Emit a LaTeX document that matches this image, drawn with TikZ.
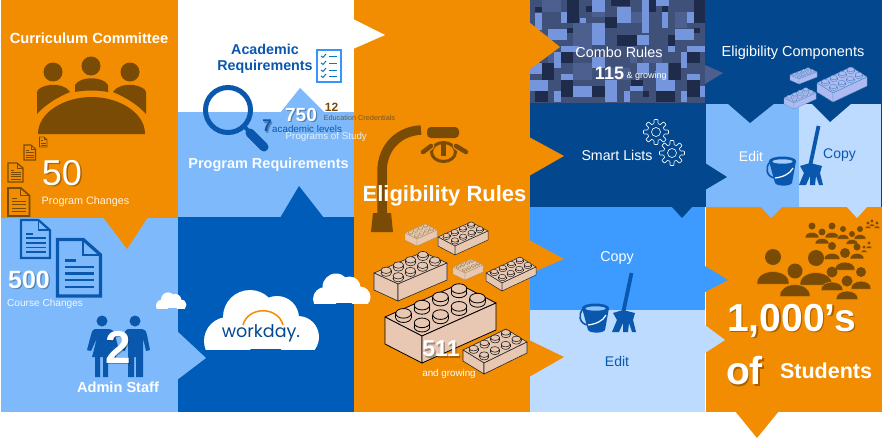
\documentclass[tikz,border=0pt]{standalone}
\usepackage{fontspec}
\setmainfont{Liberation Sans}
\newfontfamily\wdayfont{Poppins}
\definecolor{org}{HTML}{F28C00}
\definecolor{lblue}{HTML}{7EB9FB}
\definecolor{dblue}{HTML}{005CB9}
\definecolor{navy}{HTML}{03488F}
\definecolor{mblue}{HTML}{3D9BFF}
\definecolor{pale}{HTML}{BCDBFF}
\definecolor{brn}{HTML}{7A4B05}
\definecolor{icob}{HTML}{0A57AE}
\definecolor{brickf}{HTML}{E8C8B2}
\definecolor{brickb}{HTML}{AEBBF2}
\definecolor{legobase}{HTML}{3F5178}
\definecolor{legolight}{HTML}{7596DC}
\definecolor{legodark}{HTML}{1F2B4A}
\definecolor{legomid}{HTML}{4C5F8E}
\tikzset{
  fs/.style={font=\fontsize{#1}{#1}\selectfont,inner sep=0pt},
  fsb/.style={font=\fontsize{#1}{#1}\selectfont\bfseries,inner sep=0pt},
  wht/.style={text=white},
}
\newcommand\Sh[6]{% name x y opts text (shadowed)
  \node[#4,text=black,opacity=.3] at ({#2+1.3},{#3+1.3}) {#5};
  \node[#4,text=#6] (#1) at (#2,#3) {#5};
}
\newcommand\doc[7]{% x1 y1 x2 y2 colour lw nlines
  \pgfmathsetmacro\dw{#3-#1}\pgfmathsetmacro\dh{#4-#2}
  \draw[#5,line width=#6,line join=miter] (#1,#2) -- ({#3-.4*\dw},#2) -- (#3,{#2+.27*\dh}) -- (#3,#4) -- (#1,#4) -- cycle;
  \draw[#5,line width={.7*#6}] ({#3-.4*\dw},#2) -- ({#3-.4*\dw},{#2+.27*\dh}) -- (#3,{#2+.27*\dh});
  \foreach \k in {1,...,#7}{
    \draw[#5,line width={.7*#6}] ({#1+.17*\dw},{#2+(.36+.48*\k/#7)*\dh}) -- ({#3-.15*\dw},{#2+(.36+.48*\k/#7)*\dh});
  }
  \draw[#5,line width={.7*#6}] ({#1+.17*\dw},{#2+.37*\dh}) -- ({#1+.42*\dw},{#2+.37*\dh});
}
\newcommand\person[3]{% x y s
  \fill[brn] (#1,#2) circle ({#3});
  \path[fill=brn,draw=org,line width=.5] ({#1-2*#3},{#2+3.4*#3}) .. controls ({#1-2.2*#3},{#2+1.3*#3}) and ({#1+2.2*#3},{#2+1.3*#3}) .. ({#1+2*#3},{#2+3.4*#3}) -- cycle;
}
\newcommand\cloudicon[3]{% x-left y-bottom scale (based on 115x59 cloud)
  \begin{scope}[shift={(#1,#2)},x=#3pt,y=-#3pt]
    \clip (-5,-70) rectangle (125,0);
    \fill[white] (24,-8) circle (24) (46,-32) circle (27) (73,-31) circle (22) (94,-12) circle (21);
    \fill[white] (24,-30) rectangle (94,0);
  \end{scope}
}
\newcommand\brick[9]{% Lx Ly ax ay bx by h fill strokeopts
  \pgfmathsetmacro\rx{.105*#5}\pgfmathsetmacro\ry{.62*\rx}\pgfmathsetmacro\tt{.55*\rx}
  \path[fill=#8,#9,line join=round] (#1,#2) -- ({#1+#3},{#2+#4}) -- ({#1+#3+#5},{#2+#4+#6}) -- ({#1+#5},{#2+#6}) -- cycle;
  \path[fill=#8,#9,line join=round] (#1,#2) -- ({#1+#3},{#2+#4}) -- ({#1+#3},{#2+#4+#7}) -- (#1,{#2+#7}) -- cycle;
  \path[fill=#8,#9,line join=round] ({#1+#3},{#2+#4}) -- ({#1+#3+#5},{#2+#4+#6}) -- ({#1+#3+#5},{#2+#4+#6+#7}) -- ({#1+#3},{#2+#4+#7}) -- cycle;
  \foreach \jj in {0,1}{\foreach \ii in {3,2,1,0}{
    \pgfmathsetmacro\px{#1+(\jj+.5)/2*#3+(\ii+.5)/4*#5}
    \pgfmathsetmacro\py{#2+(\jj+.5)/2*#4+(\ii+.5)/4*#6}
    \path[fill=#8,#9] (\px,\py) ellipse ({\rx} and {\ry});
    \fill[#8] ({\px-\rx},{\py-\tt}) rectangle ({\px+\rx},\py);
    \path[#9] ({\px-\rx},{\py-\tt}) -- ({\px-\rx},\py) ({\px+\rx},{\py-\tt}) -- ({\px+\rx},\py);
    \path[fill=#8,#9] (\px,{\py-\tt}) ellipse ({\rx} and {\ry});
  }}
}
\newcommand\gear[2]{%
  \draw[white,line width=.6,shift={(#1,#2)}] plot[domain=0:360,samples=145,smooth] (\x:{10.5+2*max(min(3*cos(8*\x),1),-1)}) -- cycle;
  \draw[white,line width=.6] (#1,#2) circle (4.5);
}
\newcommand\bucketbroom[3]{% dx dy handle colour
  \begin{scope}[shift={(#1,#2)}]
    \fill[icob] (582,308) -- (588,330) .. controls (590,333.5) and (603,333.5) .. (605,330) -- (609,308) -- cycle;
    \fill[icob] (595.5,308) ellipse (13.5 and 4.5);
    \fill[#3] (595.5,308.5) ellipse (10 and 2.2);
    \draw[icob,line width=1.6] (583,309) .. controls (578,314) and (579,324) .. (588,325);
    \draw[white,line width=1.2] (588,325) .. controls (596,324) and (603,321) .. (606,315);
    \draw[icob,line width=3.8] (631.5,273) -- (623.5,311);
    \fill[icob] (612,332) -- (617,320) -- (613,313) -- (623,310) -- (635,313) -- (633,320) -- (636,332) -- (632,332) -- (629,323) -- (628,332) -- (623,332) -- (623,323) -- (619,332) -- cycle;
  \end{scope}
}
\begin{document}
\begin{tikzpicture}[x=1pt,y=-1pt]
\useasboundingbox (0,0) rectangle (882,439);
\fill[white] (0,0) rectangle (882,439);
% ---- column 1
\fill[org] (1,0) rectangle (178,218);
\fill[lblue] (1,218) rectangle (178,412);
\fill[org] (103,217) -- (127,249) -- (148,217) -- cycle;
% ---- column 2
\fill[lblue] (178,112) rectangle (354,218);
\fill[dblue] (178,217) rectangle (354,412);
\fill[lblue] (280,113) -- (300,88) -- (325,113) -- cycle;
\fill[dblue] (280,218) -- (299,186) -- (324,218) -- cycle;
\fill[lblue] (177,331) -- (206,358) -- (177,380) -- cycle;
% ---- column 4 backgrounds
\begin{scope}
  \clip (530,0) rectangle (705,103);
  \fill[legobase] (529,0) rectangle (705,103);
  \begin{scope}[shift={(529,0)},x=.3333pt,y=-.3333pt]
    \foreach \a/\b/\c/\d in {133/70/190/138,38/0/95/35,303/35/340/70,57/155/75/190,228/205/303/240,133/190/190/240,342/155/400/190,437/35/475/85,190/35/228/52,150/138/190/170,0/105/57/138,303/105/323/190}{\fill[legomid] (\a,\b) rectangle (\c,\d);}
    \foreach \a/\b/\c/\d in {113/0/150/68,18/20/38/35,172/18/190/35,228/52/265/85,247/0/303/18,360/0/380/35,400/18/418/35,495/0/527/68,115/85/133/100,265/105/323/138,418/105/437/138,495/85/512/100,95/155/133/190,475/155/512/190,38/190/75/240,420/190/455/240,95/240/133/290,190/257/228/290,475/240/512/290,18/272/57/305,342/272/360/290,380/272/437/305,305/240/342/257}{\fill[legodark] (\a,\b) rectangle (\c,\d);}
    \foreach \a/\b/\c/\d in {190/0/228/35,265/20/305/70,340/0/360/100,380/0/420/18,400/35/418/85,475/35/495/68,18/38/38/90,95/35/113/68,153/53/170/68,190/70/228/135,57/88/115/120,437/88/495/120,323/105/360/135,95/138/150/155,475/138/527/155,418/138/437/155,75/155/95/205,190/170/228/205,455/155/475/205,323/190/360/222,380/190/418/240,0/190/38/222,95/222/133/240,475/222/512/240,0/240/57/272,228/240/265/305,133/257/190/290,303/257/342/272,380/240/437/272,512/257/527/290,75/272/95/305,285/272/303/305,455/272/475/305}{\fill[legolight] (\a,\b) rectangle (\c,\d);}
  \end{scope}
\end{scope}
\fill[navy] (530,103) rectangle (705,207);
\fill[mblue] (530,207) rectangle (705,310);
\fill[pale] (530,310) rectangle (705,412);
\fill[navy] (671,206) -- (682,218) -- (693,206) -- cycle;
% ---- column 5
\fill[navy] (705,0) rectangle (882,207);
\fill[lblue] (706,104) rectangle (799,207);
\fill[pale] (799,104) rectangle (881,207);
\fill[navy] (727,103) -- (750,123) -- (775,103) -- cycle;
\fill[navy] (811,103) -- (830,122) -- (852,103) -- cycle;
\fill[navy] (705,163) -- (727,177) -- (705,190) -- cycle;
\fill[legomid] (705,65) -- (723,73) -- (705,84) -- cycle;
% orange right block
\fill[org] (706,207) rectangle (882,412);
\fill[lblue] (760,206) -- (771,218) -- (783,206) -- cycle;
\fill[pale] (846,206) -- (857,218) -- (868,206) -- cycle;
\fill[org] (735,411) -- (757,438) -- (779,411) -- cycle;
\fill[mblue] (705,266) -- (728,280) -- (705,292) -- cycle;
\fill[pale] (705,325) -- (725,340) -- (705,353) -- cycle;
% ---- column 3 orange
\fill[org] (354,0) rectangle (530,412);
\fill[white] (353,19) -- (385,35) -- (353,49) -- cycle;
\fill[org] (529,22) -- (560,47) -- (529,70) -- cycle;
\fill[org] (529,137) -- (564,156) -- (529,176) -- cycle;
\fill[org] (529,240) -- (564,259) -- (529,274) -- cycle;
\fill[org] (529,340) -- (564,357) -- (529,377) -- cycle;
% ---- committee icon
\fill[brn] (53,72) circle (9.5) (91,66) circle (9.5) (130,72) circle (9.5);
\fill[brn] (37,114) -- (37,92) .. controls (38,85) and (62,80) .. (70,92) .. controls (58,97) and (46,104) .. (37,114) -- cycle;
\fill[brn] (146,114) -- (146,92) .. controls (145,85) and (121,80) .. (113,92) .. controls (125,97) and (137,104) .. (146,114) -- cycle;
\fill[brn] (75,92) -- (75,85) .. controls (80,76) and (103,76) .. (108,85) -- (108,92) .. controls (98,90) and (85,90) .. (75,92) -- cycle;
\fill[brn] (38,134) .. controls (38,112) and (65,97) .. (91.5,97) .. controls (118,97) and (145,112) .. (145,134) -- cycle;
% ---- docs brown
\doc{39.5}{137}{47}{147}{brn}{.8}{2}
\doc{24}{145}{35.5}{160}{brn}{1.1}{3}
\doc{8}{163}{23}{182}{brn}{1.3}{4}
\doc{8}{188}{29.5}{216}{brn}{1.6}{4}
% ---- docs blue
\doc{21}{220}{50}{258}{icob}{2.2}{4}
\doc{57.5}{239.5}{100.5}{296}{icob}{3.2}{4}
% ---- academic icons
\draw[lblue!60!cyan!70!blue,line width=2] (317,50) rectangle (341,81.5);
\foreach \yy in {56,63,70,76}{
  \draw[icob!80!cyan,line width=1] (321,\yy) -- (323,{\yy+1.5}) -- (326,{\yy-2});
  \draw[icob!80!cyan,line width=1] (329,\yy) -- (337,\yy);
}
\draw[icob,line width=5] (228,110) circle (22.5);
\draw[icob,line width=4] (245,127) -- (250,133);
\draw[icob,line width=9,line cap=round] (250,133) -- (264,147);
% ---- admin people
\fill[icob] (102,321) circle (5.5) (135,321) circle (5.5);
\fill[icob] (95,329) -- (108,329) .. controls (112,329) and (114,331) .. (115,335) -- (119,350) -- (115,351) -- (111,338) -- (116,357) -- (108,357) -- (108,377) -- (103,377) -- (103,357) -- (100,357) -- (100,377) -- (95,377) -- (95,357) -- (92,357) -- (97,338) -- (91,351) -- (87,350) -- (91,335) .. controls (92,331) and (93,329) .. (95,329) -- cycle;
\fill[icob] (128,329) -- (142,329) .. controls (145,329) and (146,331) .. (147,335) -- (150,350) -- (146,351) -- (143,338) -- (143,377) -- (136,377) -- (136,357) -- (134,357) -- (134,377) -- (128,377) -- (128,338) -- (125,351) -- (121,350) -- (124,335) .. controls (125,331) and (126,329) .. (128,329) -- cycle;
% ---- clouds
\cloudicon{156}{308}{.265}
\cloudicon{204}{349}{1}
\cloudicon{313}{303}{.5}
\draw[org,line width=1.5] (243,325) .. controls (248,306) and (278,306) .. (283,325);
\node[font=\wdayfont\fontsize{17.5}{18}\selectfont,text=navy,inner sep=0pt] (wd) at (261,333) {workday.};
% ---- lamp
\draw[brn,line width=9.5] (382,225) -- (382,172) .. controls (382,146) and (400,131) .. (421,130);
\fill[brn] (373,213) -- (391,213) -- (393,232) -- (371,232) -- cycle;
\fill[brn,rounded corners=4] (427,127) rectangle (459,138);
\draw[brn,line width=3] (443.5,152) ellipse (12 and 9.5);
\draw[org,line width=7,line cap=round] (423,152) -- (431,146) (466,152) -- (456,146);
\draw[brn,line width=4.5,line cap=round] (423,152) -- (431,146) (466,152) -- (456,146);
\draw[brn,line width=4.5] (443.5,142) -- (443.5,156);
% ---- bricks
\brick{405}{233}{12}{6}{20}{-9}{7}{brickf}{draw=brn!60,line width=.4}
\brick{438}{237}{17}{9}{33}{-15}{9}{brickf}{draw=black!85,line width=.5}
\brick{374}{273}{24}{11}{49}{-21}{17}{brickf}{draw=black!85,line width=.6}
\brick{453}{267}{12}{6}{18}{-8}{7}{brickf}{draw=brn!60,line width=.4}
\brick{486}{273}{16}{10}{34}{-16}{8}{brickf}{draw=black!85,line width=.5}
\brick{385}{317}{37}{19}{74}{-33}{27}{brickf}{draw=black,line width=.8}
\brick{463}{350}{21}{13}{43}{-21}{11}{brickf}{draw=black!85,line width=.6}
\brick{790}{75}{9}{4}{18}{-7}{5}{brickb}{draw=icob!60,line width=.35}
\brick{817}{83}{16}{10}{34}{-16}{9}{brickb}{draw=icob!70,line width=.4}
\brick{784}{98}{10}{5}{22}{-10}{6}{brickb}{draw=icob!60,line width=.35}
% ---- gears, bucket
\gear{656}{132}
\gear{672}{153}
\bucketbroom{0}{0}{mblue!60}
\bucketbroom{187}{-147}{lblue!70}
% ---- students
\person{868}{223}{1.6}\person{872}{221}{1.6}\person{877}{223}{1.6}
\person{864}{247}{1.6}\person{869}{243}{1.6}
\person{812}{226}{3.5}\person{832}{226}{3.5}\person{822}{232}{3.5}
\person{843}{229}{3}\person{860}{229}{3}\person{852}{234}{3}
\person{832}{246}{4}\person{857}{247}{3.5}
\person{845}{253}{5}
\person{773}{257}{8}\person{816}{258}{8}
\person{832}{272}{5.5}\person{861}{272}{5}
\person{795}{271}{7.5}\person{847}{281}{5.5}
% ---- text
\node[fsb=14.7,wht] (t1) at (89,38) {Curriculum Committee};
\Sh{t2}{62}{173}{fs=36}{50}{white}
\node[fs=10.8,text=white!90!org,anchor=west] (t3) at (41.5,202) {Program Changes};
\Sh{t4}{29}{280}{fsb=25}{500}{white}
\node[fs=10.1,text=white!90!lblue,anchor=west] (t5) at (7,304) {Course Changes};
\Sh{t6}{118}{347}{fsb=46}{2}{white}
\node[fsb=14.6,wht] (t7) at (118,387) {Admin Staff};
\node[fsb=14.3,text=icob,align=center] (t8) at (265,49.5) {Academic};
\node[fsb=14.3,text=icob] (t8b) at (265,67) {Requirements};
\node[fsb=12,text=brn] (t9) at (331.5,107) {12};
\node[fs=7.3,text=brn!75!gray,anchor=west] (t10) at (323.5,118) {Education Credentials};
\Sh{t11}{301}{115}{fsb=19}{750}{white}
\Sh{t12}{267}{126}{fsb=17}{7}{icob}
\node[fs=9.8,text=icob,anchor=west] (t13) at (272,128.5) {academic levels};
\node[fs=9.8,text=white!80!lblue,anchor=west] (t14) at (285.5,137) {Programs of Study};
\node[fsb=14.5,text=white!95!lblue] (t15) at (268.5,165) {Program Requirements};
\node[fsb=22,wht] (t16) at (444.5,196) {Eligibility Rules};
\Sh{t17}{441}{349}{fsb=23}{511}{white}
\node[fs=9.8,wht] (t18) at (449,373.5) {and growing};
\node[fs=14.4,wht] (t19) at (619,52) {Combo Rules};
\node[fsb=18,wht] (t20) at (609.5,73) {115};
\node[fs=9,wht,anchor=west] (t21) at (626.5,76) {\& growing};
\node[fs=14.2,wht] (t22) at (617,155) {Smart Lists};
\node[fs=14.3,text=white] (t23) at (617,258) {Copy};
\node[fs=14,text=icob] (t24) at (617,361) {Edit};
\node[fs=14.5,wht] (t25) at (793,53) {Eligibility Components};
\node[fs=14,wht] (t26) at (751,156) {Edit};
\node[fs=14,text=icob] (t27) at (839.5,155) {Copy};
\Sh{t28}{791.5}{321}{fsb=39}{1,000’s}{white}
\Sh{t29}{744.5}{371}{fsb=39}{of}{white}
\node[fsb=21.5,wht] (t30) at (826,371) {Students};
\end{tikzpicture}
\end{document}
